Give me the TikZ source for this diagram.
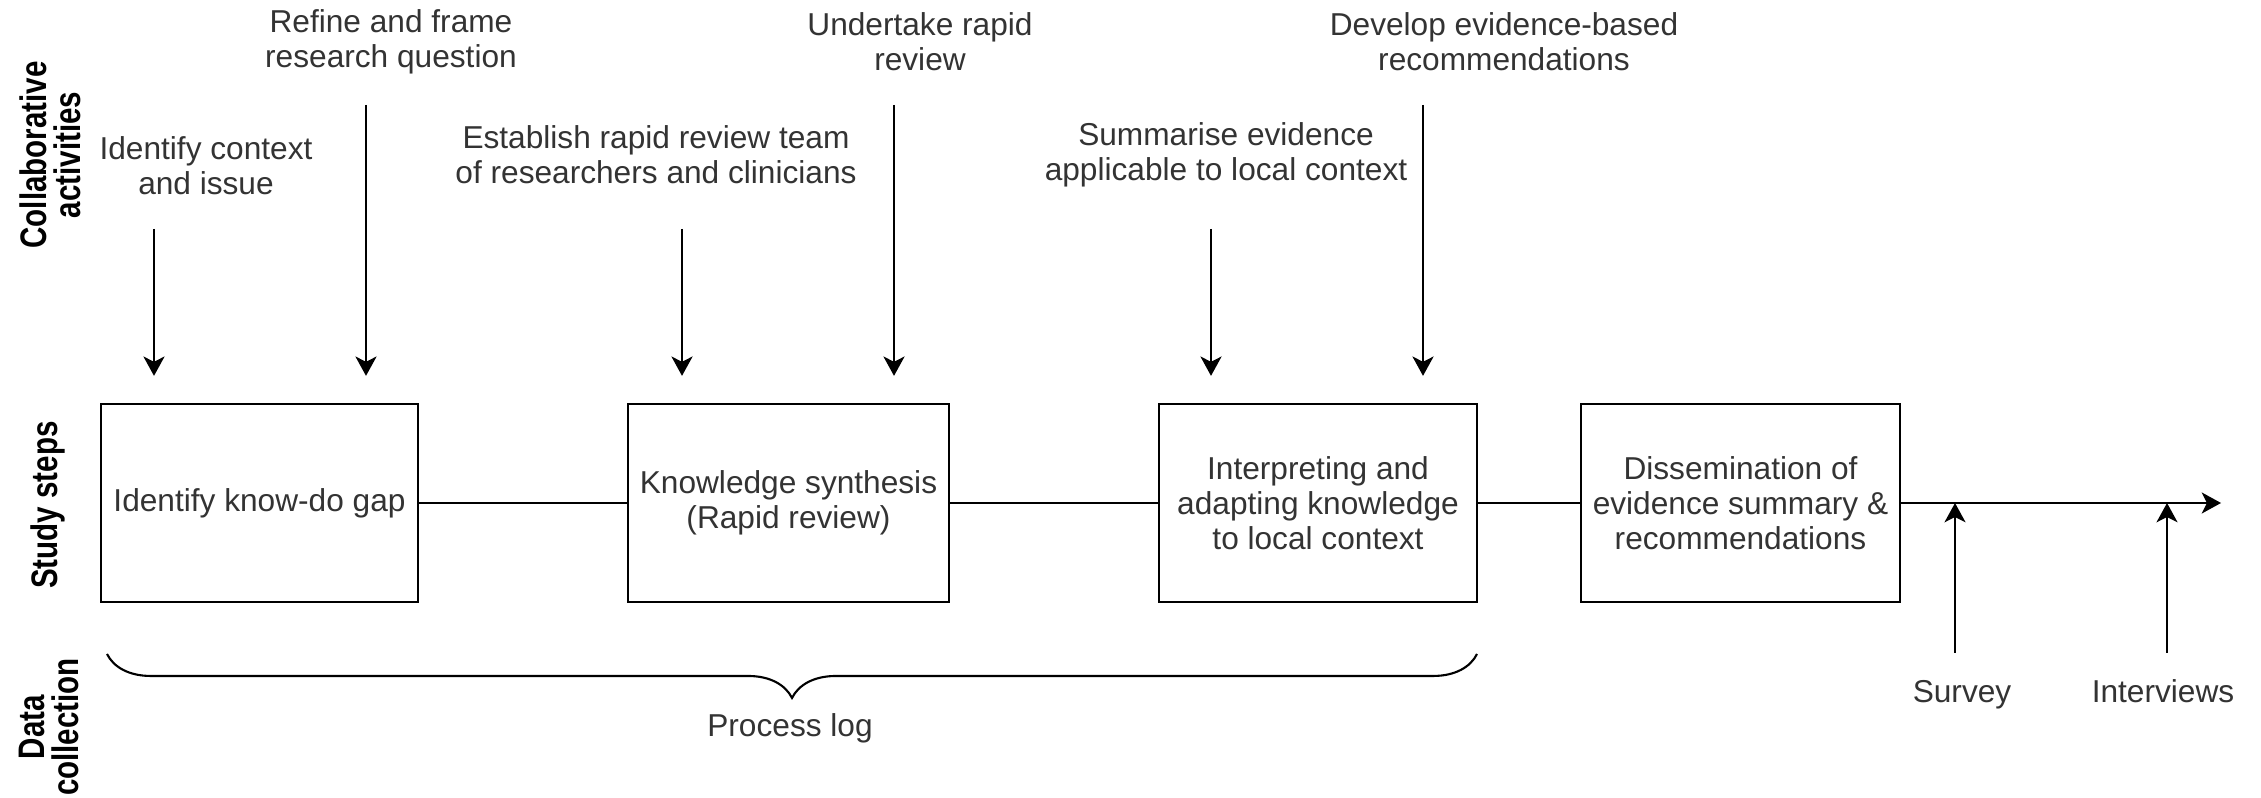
\documentclass[tikz,border=0pt]{standalone}
\usepackage{fontspec}
\setmainfont{Liberation Sans}
\newfontfamily\sidefont[FakeStretch=0.8]{Liberation Sans}
\usetikzlibrary{arrows.meta,decorations.pathreplacing}
\tikzset{
  stepbox/.style={draw, line width=0.6pt, minimum width=3.17cm, minimum height=1.98cm,
    align=center, font=\fontsize{9}{10}\selectfont, text=black!80},
  note/.style={align=center, font=\fontsize{9}{10}\selectfont, text=black!80, inner sep=0pt},
  side/.style={rotate=90, align=center, font=\sidefont\bfseries\fontsize{10.5}{9.6}\selectfont, inner sep=0pt},
  arr/.style={-{Stealth[length=5.5pt,width=6pt,inset=1.5pt]}, line width=0.6pt},
}
\begin{document}
\begin{tikzpicture}[x=0.01cm, y=-0.01cm]
    \useasboundingbox (0,0) rectangle (2261,798);

    % Row labels
    \node[side] (lblcollab) at (50,155) {Collaborative\\activities};
    \node[side] (lblsteps) at (48,505) {Study steps};
    \node[side] (lbldata) at (49,727) {Data\\collection};

    % Study steps
    \node[stepbox] (gap) at (259.5,503) {Identify know-do gap};
    \node[stepbox] (synth) at (788.5,503) {Knowledge synthesis\\(Rapid review)};
    \node[stepbox] (adapt) at (1318,503) {Interpreting and\\adapting knowledge\\to local context};
    \node[stepbox] (dissem) at (1740.5,503) {Dissemination of\\evidence summary \&\\recommendations};

    % Collaborative activities
    \node[note] (context) at (206,166) {Identify context\\and issue};
    \node[note] (refine) at (391,42) {Refine and frame\\research question};
    \node[note] (establish) at (656,155) {Establish rapid review team\\of researchers and clinicians};
    \node[note] (undertake) at (920,42) {Undertake rapid\\review};
    \node[note] (summarise) at (1226,155) {Summarise evidence\\applicable to local context};
    \node[note] (develop) at (1504,42) {Develop evidence-based\\recommendations};

    % Arrows down to the steps
    \coordinate (ctxtop) at (154,229);
    \coordinate (reftop) at (366,105);
    \coordinate (esttop) at (682,229);
    \coordinate (undtop) at (894,105);
    \coordinate (sumtop) at (1211,229);
    \coordinate (devtop) at (1423,105);
    \draw[arr, shorten >=0.27cm] (ctxtop) -- (ctxtop |- gap.north);
    \draw[arr, shorten >=0.27cm] (reftop) -- (reftop |- gap.north);
    \draw[arr, shorten >=0.27cm] (esttop) -- (esttop |- synth.north);
    \draw[arr, shorten >=0.27cm] (undtop) -- (undtop |- synth.north);
    \draw[arr, shorten >=0.27cm] (sumtop) -- (sumtop |- adapt.north);
    \draw[arr, shorten >=0.27cm] (devtop) -- (devtop |- adapt.north);

    % Main line
    \coordinate (lineend) at (2221,503);
    \draw[line width=0.6pt] (gap) -- (synth);
    \draw[line width=0.6pt] (synth) -- (adapt);
    \draw[line width=0.6pt] (adapt) -- (dissem);
    \draw[arr] (dissem) -- (lineend);

    % Data collection
    \coordinate (braceL) at (107,654);
    \coordinate (braceR) at (1477,654);
    \draw[line width=0.6pt, decorate, decoration={brace, amplitude=12.5pt}] (braceR) -- (braceL);
    \node[note] (proclog) at (790,728) {Process log};

    \node[note, anchor=base] (survey) at (1962,703) {Survey};
    \node[note, anchor=base] (interviews) at (2163,703) {Interviews};
    \coordinate (svbot) at (1955,653);
    \coordinate (ivbot) at (2167,653);
    \draw[arr, line width=0.5pt] (svbot) -- (svbot |- dissem.east);
    \draw[arr, line width=0.5pt] (ivbot) -- (ivbot |- dissem.east);
\end{tikzpicture}
\end{document}
